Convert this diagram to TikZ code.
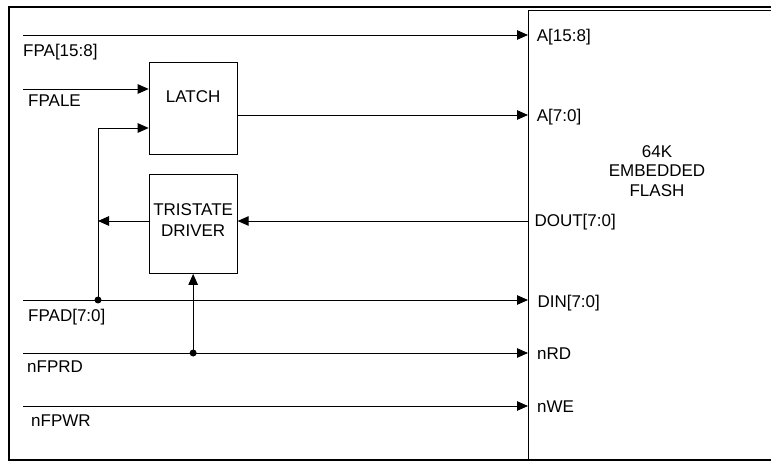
\documentclass[tikz,border=0pt]{standalone}
\usepackage{fontspec}
\setmainfont{Liberation Sans}
\usetikzlibrary{arrows.meta,positioning}
\tikzset{
    blk/.style={rectangle,draw=black,line width=0.9pt, minimum width=88pt, inner sep=0},
    wire/.style={line width=0.9pt,-{Triangle[length=11pt,width=9.5pt]}},
    junc/.style={circle,fill=black, minimum size=7pt, inner sep=0},
    txt/.style={inner sep=0, align=center, font=\fontsize{17}{21.7}\selectfont},
    pin/.style={anchor=base west, inner sep=0, font=\fontsize{17}{20}\selectfont}
}
\begin{document}
\begin{tikzpicture}[x=1pt,y=-1pt]
    \useasboundingbox (0,0) rectangle (771,462);
    \draw[line width=1.8pt] (9,7) rectangle (820,460);
    \node[blk, anchor=north west, minimum width=300pt, minimum height=449pt] (flash) at (528,10) {};
    \node[blk, anchor=north west, minimum height=92pt] (latch) at (148.7,62) {};
    \node[blk, anchor=north west, minimum height=99pt] (tri) at (148.7,174) {};
    \node[txt] (latchname) at ([yshift=12pt]latch.center) {LATCH};
    \node[txt] (triname) at ([yshift=4pt]tri.center) {TRISTATE\\DRIVER};
    \node[txt, font=\fontsize{17}{19.7}\selectfont] (flashname) at (657,171) {64K\\EMBEDDED\\FLASH};
    % signal rows
    \coordinate (fpa) at (23,35);
    \coordinate (fpale) at (23,89);
    \coordinate (alo) at (0,115);
    \coordinate (dout) at (0,221);
    \coordinate (fpad) at (23,300);
    \coordinate (nfprd) at (23,353);
    \coordinate (nfpwr) at (23,406);
    \coordinate (tap) at (98,128);
    \draw[wire] (fpa) -- (fpa -| flash.west);
    \draw[wire] (fpale) -- (fpale -| latch.west);
    \draw[wire] (alo -| latch.east) -- (alo -| flash.west);
    \draw[wire] (dout -| flash.west) -- (dout -| tri.east);
    \draw[wire] (dout -| tri.west) -- (dout -| tap);
    \draw[wire] (fpad) -- (fpad -| flash.west);
    \node[junc] (j1) at (fpad -| tap) {};
    \draw[wire] (j1.center) -- (tap) -- (tap -| latch.west);
    \draw[wire] (nfprd) -- (nfprd -| flash.west);
    \node[junc] (j2) at (nfprd -| tri.south) {};
    \draw[wire] (j2.center) -- (tri.south);
    \draw[wire] (nfpwr) -- (nfpwr -| flash.west);
    % labels
    \node[pin] (lfpa) at (23,56.7) {FPA[15:8]};
    \node[pin] (lfpale) at (28,107) {FPALE};
    \node[pin] (lfpad) at (28,321) {FPAD[7:0]};
    \node[pin] (lnfprd) at (27,372) {nFPRD};
    \node[pin] (lnfpwr) at (31,426) {nFPWR};
    \node[pin] (pahi) at (536.7,41.7) {A[15:8]};
    \node[pin] (palo) at (536.7,121.7) {A[7:0]};
    \node[pin] (pdout) at (534.3,226.7) {DOUT[7:0]};
    \node[pin] (pdin) at (537.3,307.3) {DIN[7:0]};
    \node[pin] (prd) at (537,359.3) {nRD};
    \node[pin] (pwe) at (537,412.7) {nWE};
\end{tikzpicture}
\end{document}
